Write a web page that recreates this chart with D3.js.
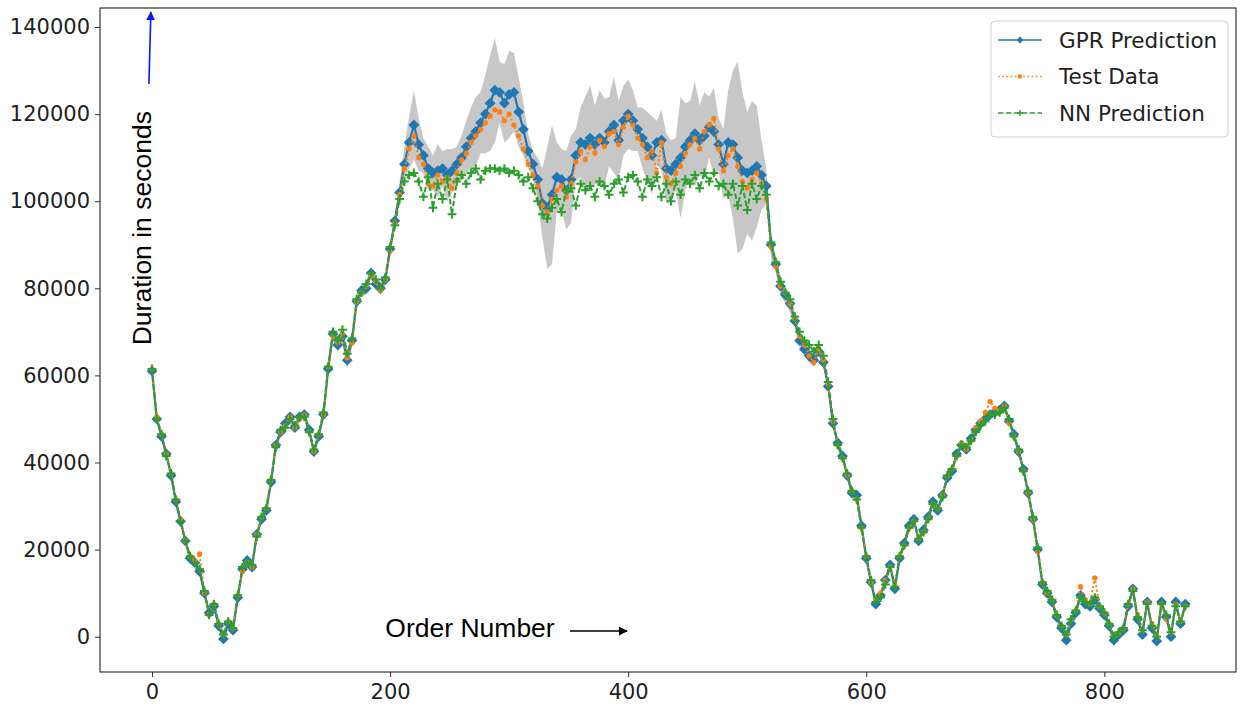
<!DOCTYPE html>
<html>
<head>
<meta charset="utf-8">
<script src="https://cdn.jsdelivr.net/npm/d3@7"></script>
<style>
  html, body { margin: 0; padding: 0; background: #fff; }
  svg { display: block; }
</style>
</head>
<body>
<svg id="chart" width="1241" height="707"></svg>
<script>
// ---------------- DATA (values in thousands of seconds, sampled every 4 orders) ----------------
const ORDER_STEP = 4;
const xTicks = [0, 200, 400, 600, 800];
const yTicks = [0, 20000, 40000, 60000, 80000, 100000, 120000, 140000];
const seriesNames = ["GPR Prediction", "Test Data", "NN Prediction"];

const testDataK = [
61.5,50.5,46.5,42.0,37.5,31.5,27.0,22.0,18.5,17.5,19.0,10.0,5.0,7.5,3.0,0.5,3.5,2.0,9.5,15.0,
17.0,16.0,23.5,27.5,29.5,36.0,44.0,47.0,48.5,50.5,48.0,50.0,51.0,47.0,42.5,46.5,51.0,62.0,69.0,67.5,
69.5,64.0,67.5,77.0,79.0,80.5,83.0,81.5,79.5,82.0,88.5,95.0,101.5,107.5,112.0,115.0,110.0,108.5,104.0,103.5,
106.0,104.5,105.5,103.0,106.5,109.5,111.0,113.5,115.0,116.5,118.0,119.5,121.0,120.5,118.5,120.0,117.5,115.0,112.0,108.5,
106.0,103.5,99.0,97.5,100.5,102.5,103.5,101.0,104.0,109.0,111.5,109.5,112.5,111.0,114.0,112.5,115.5,116.0,113.0,117.0,
119.5,117.5,114.5,113.0,110.0,111.5,106.5,113.5,105.5,104.0,106.5,108.0,111.0,113.0,114.5,112.0,116.0,117.5,119.0,112.0,
107.0,110.5,112.0,108.0,104.5,103.0,105.0,106.5,104.0,100.5,89.5,85.0,80.5,79.0,76.5,73.0,69.0,67.0,64.5,63.0,
66.0,63.5,58.0,49.5,44.0,41.0,37.0,33.5,31.5,25.0,18.5,12.5,8.5,10.0,13.0,16.0,12.0,18.5,21.0,25.0,
26.5,22.5,24.0,27.0,30.5,29.5,32.5,37.0,38.5,41.5,44.5,43.0,45.0,48.0,49.5,51.5,54.0,52.5,52.0,53.0,
49.0,46.0,42.5,38.0,33.0,27.0,19.5,12.5,10.0,8.5,5.0,2.5,0.5,4.0,6.0,11.5,8.5,7.5,13.5,7.0,
5.5,3.0,0.5,0.8,2.0,7.5,11.0,5.0,1.5,8.0,3.0,0.5,7.5,4.0,1.0,7.5,3.5,7.0
];

const gprPredK = [
61.0,50.0,46.0,42.0,37.0,31.0,26.5,22.0,18.0,17.0,15.0,10.0,5.5,7.0,2.5,-0.5,3.0,1.5,9.0,15.5,
17.5,16.0,23.5,27.0,29.0,35.5,44.0,47.0,49.0,50.5,48.0,50.5,51.0,47.5,42.5,46.0,51.0,61.5,69.5,67.0,
69.0,63.5,68.0,77.0,79.5,80.0,83.5,81.0,80.0,82.0,89.0,95.5,102.0,108.5,113.5,117.5,113.0,110.5,107.5,106.5,
107.0,107.5,106.0,107.0,108.5,110.0,112.5,114.5,116.0,118.0,120.0,122.5,125.5,125.0,122.5,124.5,125.0,120.5,116.5,111.5,
108.5,105.0,99.5,98.5,101.5,105.5,105.0,102.5,105.0,110.5,113.5,113.0,114.5,113.0,114.5,113.5,116.0,117.5,114.0,118.5,
120.0,118.5,116.5,114.5,112.5,110.5,113.5,114.0,107.5,107.0,108.5,110.0,112.5,114.0,115.5,114.0,115.0,117.0,116.0,113.0,
108.5,113.5,113.0,110.0,107.0,106.5,107.0,108.0,106.0,103.5,90.0,85.5,80.5,78.5,76.5,72.5,68.0,66.0,64.5,63.5,
65.5,63.0,57.5,49.0,44.5,41.5,37.0,33.0,32.5,25.5,18.0,12.5,7.5,9.5,13.0,16.5,11.0,18.0,21.5,25.5,
27.0,22.0,24.5,27.5,31.0,29.0,32.5,36.5,38.0,42.0,44.0,43.0,45.5,47.5,49.0,50.0,51.0,51.5,52.0,53.0,
49.5,46.5,42.5,38.5,33.0,27.0,20.0,12.0,10.0,8.0,4.5,2.0,-0.8,3.0,5.5,9.5,7.5,7.0,8.5,6.5,
5.0,2.5,-0.8,0.5,1.5,7.0,11.0,4.0,0.5,8.0,2.0,-1.0,8.0,4.5,0.0,8.0,3.0,7.5
];

const nnPredK = [
61.5,50.0,46.5,41.5,37.5,31.5,26.5,22.0,18.5,17.0,15.5,10.5,5.0,7.5,3.0,0.5,3.5,2.0,9.5,16.0,
17.0,16.5,23.0,27.5,29.5,36.0,43.5,47.5,48.0,50.0,48.5,50.5,50.5,47.0,43.0,46.5,51.5,62.0,70.0,68.0,
70.5,65.0,68.5,77.5,79.0,81.0,83.5,82.0,80.0,82.5,89.5,94.5,100.5,104.5,106.0,106.5,104.5,101.0,105.5,98.5,
104.0,100.5,105.0,97.0,104.5,106.0,104.0,106.5,107.5,105.0,107.0,107.5,107.5,107.0,107.5,106.5,107.0,106.0,104.5,105.5,
103.0,100.0,97.0,96.0,98.5,100.5,97.5,102.5,103.0,99.0,104.0,102.5,103.5,101.0,104.5,103.5,101.5,104.0,105.0,102.0,
105.5,106.0,104.5,101.0,105.0,103.5,105.5,101.0,104.0,100.0,104.5,101.5,105.0,104.0,106.0,103.0,106.5,104.5,106.5,103.5,
104.0,101.5,104.0,99.0,103.5,98.0,104.0,100.5,103.5,101.5,90.5,86.0,81.5,79.0,77.5,73.5,70.0,68.0,67.0,65.5,
67.0,64.5,58.5,50.0,44.0,41.0,37.5,33.5,31.5,25.0,18.5,13.0,8.0,9.0,12.0,16.0,11.5,18.5,21.0,25.0,
26.5,22.5,24.0,27.0,30.5,29.5,32.0,37.0,38.5,41.5,44.0,43.5,45.0,47.0,48.5,49.5,51.0,51.0,51.5,52.5,
50.0,46.0,43.0,38.0,33.5,27.5,20.5,12.5,10.5,8.5,5.0,2.5,0.5,4.0,6.0,9.0,8.0,7.5,9.0,7.0,
5.5,3.0,0.0,1.0,2.0,7.5,10.5,4.5,1.5,7.5,2.5,0.0,7.5,5.0,1.0,7.0,3.5,7.0
];

// GPR confidence half-width
const gprBandK = [
1.0,1.0,1.0,1.0,1.0,1.0,1.0,1.0,1.0,1.0,1.0,1.0,1.0,1.0,1.0,1.0,1.0,1.0,1.0,1.0,
1.0,1.0,1.0,1.0,1.0,1.0,1.0,1.0,1.0,1.0,1.0,1.0,1.0,1.0,1.0,1.0,1.0,1.5,1.5,1.5,
2.0,2.0,1.5,1.5,1.5,1.5,1.5,1.5,1.5,1.5,1.5,1.5,2.5,4.0,6.0,8.0,6.0,4.0,5.0,4.0,
6.0,4.0,6.0,5.0,4.0,5.0,6.0,7.0,8.0,7.0,9.0,11.0,12.0,7.0,9.0,10.0,9.0,8.0,6.0,4.0,
3.0,5.0,8.0,14.0,16.0,8.0,7.0,9.0,10.0,6.0,8.0,11.0,12.0,9.0,11.0,10.0,8.0,11.0,9.0,8.0,
8.0,7.0,5.0,7.0,8.0,9.0,5.0,7.0,8.0,7.0,6.0,14.0,10.0,9.0,12.0,8.0,10.0,7.0,10.0,6.0,
8.0,12.0,17.0,22.0,18.0,14.0,16.0,14.0,8.0,4.0,3.0,2.0,2.0,2.0,2.0,1.5,1.5,1.5,1.5,1.5,
1.0,1.0,1.0,1.0,1.0,1.0,1.0,1.0,1.0,1.0,1.0,1.0,1.0,1.0,1.0,1.0,1.0,1.0,1.0,1.0,
1.0,1.0,1.0,1.0,1.0,1.0,1.0,1.0,1.0,1.0,1.0,1.0,1.0,1.0,1.0,1.0,1.0,1.0,1.0,1.0,
1.0,1.0,1.0,1.0,1.0,1.0,1.0,1.0,1.0,1.0,1.0,1.0,1.0,1.0,1.0,1.0,1.0,1.0,1.0,1.0,
1.0,1.0,1.0,1.0,1.0,1.0,1.0,1.0,1.0,1.0,1.0,1.0,1.0,1.0,1.0,1.0,1.0,1.0
];

// ---------------- BUILD ----------------
const K = 1000;
const rows = testDataK.map((v, i) => ({
  order: i * ORDER_STEP,
  test: v * K,
  gpr: gprPredK[i] * K,
  nn: nnPredK[i] * K,
  lo: (gprPredK[i] - gprBandK[i]) * K,
  hi: (gprPredK[i] + gprBandK[i]) * K
}));

const svg = d3.select("#chart");
const plot = { left: 100, right: 1236, top: 8, bottom: 672 };

const x = d3.scaleLinear().domain([-43.7, 910.6]).range([plot.left, plot.right]);
const y = d3.scaleLinear().domain([-8100, 144360]).range([plot.bottom, plot.top]);

const colors = { gpr: "#1f77b4", test: "#ff7f0e", nn: "#2ca02c" };
const tickFont = "'DejaVu Sans', Verdana, sans-serif";
const annoFont = "'Liberation Sans', Arial, Helvetica, sans-serif";

// clip
svg.append("defs").append("clipPath").attr("id", "clip")
  .append("rect").attr("x", plot.left).attr("y", plot.top)
  .attr("width", plot.right - plot.left).attr("height", plot.bottom - plot.top);

const g = svg.append("g").attr("clip-path", "url(#clip)");

// band
g.append("path").datum(rows)
  .attr("fill", "#bdbdbd").attr("fill-opacity", 0.85)
  .attr("d", d3.area().x(d => x(d.order)).y0(d => y(d.lo)).y1(d => y(d.hi)));

const diamond = "M0,-5.4L5.4,0L0,5.4L-5.4,0Z";
const plus = "M-4.4,0H4.4M0,-4.4V4.4";

// GPR
g.append("path").datum(rows).attr("fill", "none").attr("stroke", colors.gpr).attr("stroke-width", 2.2)
  .attr("d", d3.line().x(d => x(d.order)).y(d => y(d.gpr)));
g.append("g").selectAll("path").data(rows).join("path")
  .attr("transform", d => `translate(${x(d.order)},${y(d.gpr)})`)
  .attr("d", diamond).attr("fill", colors.gpr);

// Test data
g.append("path").datum(rows).attr("fill", "none").attr("stroke", colors.test).attr("stroke-width", 2)
  .attr("stroke-dasharray", "2,2.4")
  .attr("d", d3.line().x(d => x(d.order)).y(d => y(d.test)));
g.append("g").selectAll("circle").data(rows).join("circle")
  .attr("cx", d => x(d.order)).attr("cy", d => y(d.test)).attr("r", 2.6)
  .attr("fill", colors.test);

// NN
g.append("path").datum(rows).attr("fill", "none").attr("stroke", colors.nn).attr("stroke-width", 2)
  .attr("stroke-dasharray", "5.5,2.4")
  .attr("d", d3.line().x(d => x(d.order)).y(d => y(d.nn)));
g.append("g").selectAll("path").data(rows).join("path")
  .attr("transform", d => `translate(${x(d.order)},${y(d.nn)})`)
  .attr("d", plus).attr("stroke", colors.nn).attr("stroke-width", 2).attr("fill", "none");

// axes
const xAxis = svg.append("g").attr("transform", `translate(0,${plot.bottom})`)
  .call(d3.axisBottom(x).tickValues(xTicks).tickSize(5).tickPadding(6).tickFormat(d3.format("d")));
const yAxis = svg.append("g").attr("transform", `translate(${plot.left},0)`)
  .call(d3.axisLeft(y).tickValues(yTicks).tickSize(5).tickPadding(5).tickFormat(d3.format("d")));
[xAxis, yAxis].forEach(a => {
  a.select(".domain").remove();
  a.selectAll(".tick line").attr("stroke", "#333").attr("stroke-width", 1);
  a.selectAll(".tick text").attr("font-family", tickFont).attr("font-size", 21).attr("fill", "#222");
});
xAxis.selectAll(".tick text").attr("dy", "0.78em");

// frame
svg.append("rect").attr("x", plot.left).attr("y", plot.top)
  .attr("width", plot.right - plot.left).attr("height", plot.bottom - plot.top)
  .attr("fill", "none").attr("stroke", "#222").attr("stroke-width", 1.1);

// legend
const lg = svg.append("g").attr("transform", "translate(991,21)");
lg.append("rect").attr("width", 237).attr("height", 116).attr("rx", 4)
  .attr("fill", "#fff").attr("fill-opacity", 0.8).attr("stroke", "#d0d0d0");
const legendRows = [
  { name: seriesNames[0], color: colors.gpr, dash: null, marker: "diamond" },
  { name: seriesNames[1], color: colors.test, dash: "1.6,2.6", marker: "dot" },
  { name: seriesNames[2], color: colors.nn, dash: "5.5,2.4", marker: "plus" }
];
legendRows.forEach((r, i) => {
  const cy = 19 + i * 36.5;
  const row = lg.append("g").attr("transform", `translate(0,${cy})`);
  row.append("line").attr("x1", 7).attr("x2", 51).attr("y1", 0).attr("y2", 0)
    .attr("stroke", r.color).attr("stroke-width", 1.6).attr("stroke-dasharray", r.dash);
  if (r.marker === "diamond") row.append("path").attr("d", "M0,-3.4L3.4,0L0,3.4L-3.4,0Z").attr("transform", "translate(29,0)").attr("fill", r.color);
  if (r.marker === "dot") row.append("circle").attr("cx", 29).attr("r", 2.2).attr("fill", r.color);
  if (r.marker === "plus") row.append("path").attr("d", "M-3,0H3M0,-3V3").attr("transform", "translate(29,0)").attr("stroke", r.color).attr("stroke-width", 1.5);
  row.append("text").attr("x", 68).attr("y", 0).attr("dy", "0.36em")
    .attr("font-family", tickFont).attr("font-size", 21.5).attr("fill", "#222").text(r.name);
});

// annotations
svg.append("defs").html(`
  <marker id="headBlue" viewBox="0 0 10 10" refX="9" refY="5" markerWidth="9" markerHeight="9" markerUnits="userSpaceOnUse" orient="auto">
    <path d="M0,0L10,5L0,10Z" fill="#0a14ff"/></marker>
  <marker id="headBlack" viewBox="0 0 10 10" refX="9" refY="5" markerWidth="9" markerHeight="9" markerUnits="userSpaceOnUse" orient="auto">
    <path d="M0,0L10,5L0,10Z" fill="#000"/></marker>`);

svg.append("line")
  .attr("x1", x(-2.6)).attr("y1", y(126900)).attr("x2", x(-1.0)).attr("y2", y(143400))
  .attr("stroke", "#0a14ff").attr("stroke-width", 1.6).attr("marker-end", "url(#headBlue)");

svg.append("text")
  .attr("transform", `translate(${x(-0.8)},${y(93800)}) rotate(-90)`)
  .attr("text-anchor", "middle")
  .attr("font-family", annoFont).attr("font-size", 26.5).attr("fill", "#000")
  .text("Duration in seconds");

svg.append("text")
  .attr("x", x(196)).attr("y", y(0))
  .attr("font-family", annoFont).attr("font-size", 26.5).attr("fill", "#000")
  .text("Order Number");

svg.append("line")
  .attr("x1", x(351)).attr("y1", y(1300)).attr("x2", x(399)).attr("y2", y(1300))
  .attr("stroke", "#000").attr("stroke-width", 1.5).attr("marker-end", "url(#headBlack)");
</script>
</body>
</html>
